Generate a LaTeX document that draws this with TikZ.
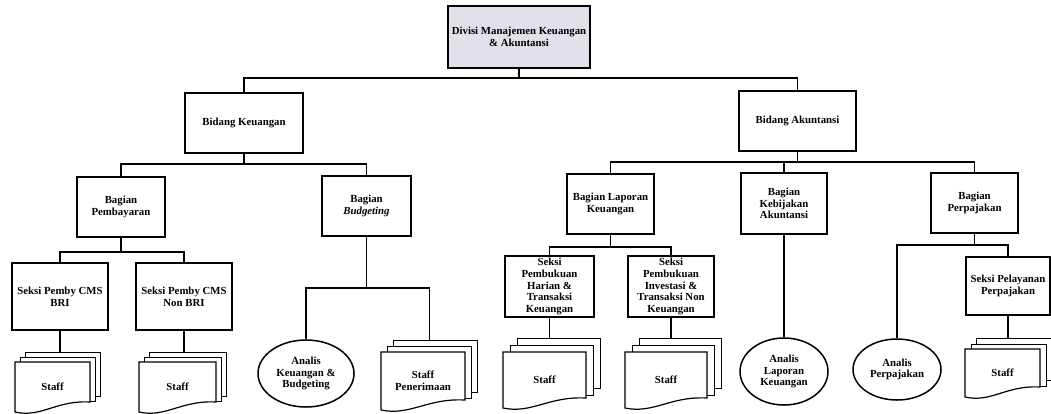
\documentclass[tikz,border=0pt]{standalone}
\usepackage{fontspec}
\setmainfont{Liberation Serif}[BoldFont={Liberation Serif Bold},BoldItalicFont={Liberation Serif Bold Italic}]
\usepackage{tikz}
\usetikzlibrary{calc,positioning,shapes.geometric}

\definecolor{topgray}{RGB}{226,224,232}
\newcommand\orgsize{\fontsize{10.8}{11.7}\selectfont\bfseries}

\begin{document}
\begin{tikzpicture}[x=1pt,y=-1pt,
  unit/.style={draw,line width=1.5pt,align=center,inner sep=1pt,font=\orgsize},
  analis/.style={ellipse,draw,line width=1.5pt,align=center,inner sep=0pt,font=\orgsize},
  page/.style={draw,line width=1.2pt,fill=white,inner sep=0pt,anchor=north west},
  link/.style={line width=1.3pt}]
\useasboundingbox (0,0) rectangle (1051,413);

% Divisi and bidang
\node[unit,fill=topgray,minimum width=142pt,minimum height=62pt] (div) at (519,37) {Divisi Manajemen Keuangan\\\& Akuntansi};
\node[unit,minimum width=118pt,minimum height=60pt] (bk) at (244,123) {Bidang Keuangan};
\node[unit,minimum width=117pt,minimum height=60pt] (ba) at (797.5,121) {Bidang Akuntansi};

% Bagian
\node[unit,minimum width=88pt,minimum height=60pt] (bp) at (121,207) {Bagian\\Pembayaran};
\node[unit,minimum width=89pt,minimum height=60pt] (bb) at (366.5,206) {Bagian\\\textit{Budgeting}};
\node[unit,minimum width=87pt,minimum height=60pt] (blk) at (610.5,204) {Bagian Laporan\\Keuangan};
\node[unit,minimum width=86pt,minimum height=61pt] (bka) at (784,203.5) {Bagian\\Kebijakan\\Akuntansi};
\node[unit,minimum width=87pt,minimum height=60pt] (bpj) at (974.5,203) {Bagian\\Perpajakan};

% Seksi
\node[unit,minimum width=96pt,minimum height=67pt] (sbri) at (60,296.5) {Seksi Pemby CMS\\BRI};
\node[unit,minimum width=96pt,minimum height=67pt] (snbri) at (184,296.5) {Seksi Pemby CMS\\Non BRI};
\node[unit,minimum width=89pt,minimum height=61pt] (sph) at (549.5,286.5) {Seksi\\Pembukuan\\Harian \&\\Transaksi\\Keuangan};
\node[unit,minimum width=86pt,minimum height=61pt] (spi) at (671,286.5) {Seksi\\Pembukuan\\Investasi \&\\Transaksi Non\\Keuangan};
\node[unit,minimum width=84pt,minimum height=58pt] (spp) at (1008,286) {Seksi Pelayanan\\Perpajakan};

% Analis
\node[analis,minimum width=96pt,minimum height=67pt] (ekb) at (306,373.5) {Analis\\Keuangan \&\\Budgeting};
\node[analis,minimum width=88pt,minimum height=67pt] (ekl) at (784,371.5) {Analis\\Laporan\\Keuangan};
\node[analis,minimum width=88pt,minimum height=61pt] (ep) at (897,369.5) {Analis\\Perpajakan};

% Staff stacks: back page, middle page, front document
\foreach \n/\x/\y/\w/\h/\d/\t in {st1/52.5/387/75/50/5/Staff, st2/177.5/387/77/50/5/Staff,
    stp/423/381/84/58/6/{Staff\\Penerimaan}, st3/544.5/380/83/56/7/Staff,
    st4/666/380/82/56/7/Staff, st5/1002.5/373/75/48/5.5/Staff}{
  \node[page,minimum width=\w pt,minimum height=\h pt-6pt] (\n-c) at (\x-\w/2+2*\d,\y-\h/2-2*\d) {};
  \node[page,minimum width=\w pt,minimum height=\h pt-6pt] (\n-b) at (\x-\w/2+\d,\y-\h/2-\d) {};
  \draw[line width=1.2pt,fill=white] (\x-\w/2,\y-\h/2) -- (\x+\w/2,\y-\h/2) -- (\x+\w/2,\y+\h/2-10)
    .. controls (\x+0.05*\w,\y+\h/2-12) and (\x-0.15*\w,\y+\h/2+6) .. (\x-\w/2,\y+\h/2) -- cycle;
  \node[align=center,font=\orgsize,inner sep=0pt,minimum width=\w pt,minimum height=\h pt] (\n) at (\x,\y) {\t};
}

% Junction rows
\coordinate (r1) at (0,78);
\coordinate (r2) at (0,164);
\coordinate (r3) at (0,162);
\coordinate (r4) at (0,252);
\coordinate (r5) at (0,288);
\coordinate (r6) at (0,247);
\coordinate (r7) at (0,245);

% Connectors
\draw[link] (div.south) -- (div.south |- r1);
\draw[link] (bk.north) -- (bk.north |- r1) -- (ba.north |- r1) -- (ba.north);
\draw[link] (bk.south) -- (bk.south |- r2);
\draw[link] (bp.north) -- (bp.north |- r2) -- (bb.north |- r2) -- (bb.north);
\draw[link] (ba.south) -- (ba.south |- r3);
\draw[link] (blk.north) -- (blk.north |- r3) -- (bpj.north |- r3) -- (bpj.north);
\draw[link] (bka.north) -- (bka.north |- r3);

\draw[link] (bp.south) -- (bp.south |- r4);
\draw[link] (sbri.north) -- (sbri.north |- r4) -- (snbri.north |- r4) -- (snbri.north);
\draw[link] (bb.south) -- (bb.south |- r5);
\draw[link] (ekb.north) -- (ekb.north |- r5) -- (stp-b.north |- r5) -- (stp-b.north |- stp-c.north);
\draw[link] (blk.south) -- (blk.south |- r6);
\draw[link] (sph.north) -- (sph.north |- r6) -- (spi.north |- r6) -- (spi.north);
\draw[link] (bka.south) -- (ekl.north);
\draw[link] (bpj.south) -- (bpj.south |- r7);
\draw[link] (ep.north) -- (ep.north |- r7) -- (spp.north |- r7) -- (spp.north);

\draw[link] (sbri.south) -- (sbri.south |- st1-c.north);
\draw[link] (snbri.south) -- (snbri.south |- st2-c.north);
\draw[link] (sph.south) -- (sph.south |- st3-c.north);
\draw[link] (spi.south) -- (spi.south |- st4-c.north);
\draw[link] (spp.south) -- (spp.south |- st5-c.north);
\end{tikzpicture}
\end{document}
